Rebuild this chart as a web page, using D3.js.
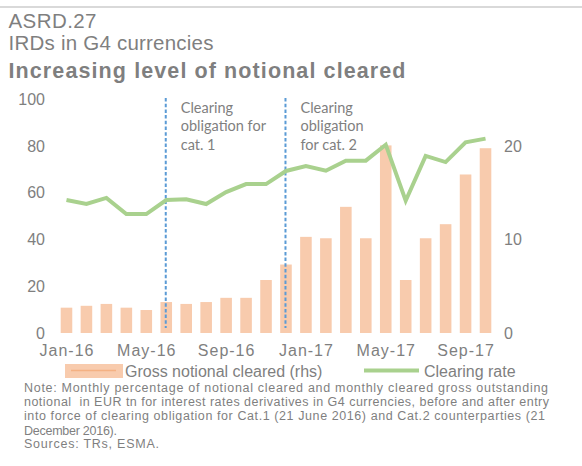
<!DOCTYPE html>
<html>
<head>
<meta charset="utf-8">
<script src="https://cdn.jsdelivr.net/npm/d3@7"></script>
<style>
  html, body { margin: 0; padding: 0; background: #fff; }
  svg { display: block; font-family: "Liberation Sans", Arial, sans-serif; }
</style>
</head>
<body>
<svg id="chart" width="582" height="466"></svg>
<script>
// ---- data ----
const months = ["Jan-16","Feb-16","Mar-16","Apr-16","May-16","Jun-16","Jul-16","Aug-16","Sep-16","Oct-16","Nov-16","Dec-16",
                "Jan-17","Feb-17","Mar-17","Apr-17","May-17","Jun-17","Jul-17","Aug-17","Sep-17","Oct-17"];
const grossNotional = [2.7,2.9,3.1,2.7,2.45,3.3,3.1,3.3,3.75,3.75,5.65,7.3,10.25,10.1,13.45,10.1,20.0,5.65,10.1,11.6,16.9,19.7];
const clearingRate = [56.7,55.0,57.6,50.7,50.7,56.7,57.0,55.0,60.1,63.5,63.5,69.1,71.2,69.2,73.5,73.5,80.3,56.4,75.5,72.9,81.3,82.9];
const xTickLabels = ["Jan-16","May-16","Sep-16","Jan-17","May-17","Sep-17"];
const leftTicks = [0,20,40,60,80,100];
const rightTicks = [0,10,20];
const obligations = [
  {month: "Jun-16", lines: ["Clearing","obligation for","cat. 1"]},
  {month: "Dec-16", lines: ["Clearing","obligation","for cat. 2"]}
];
const headerLines = ["ASRD.27","IRDs in G4 currencies","Increasing level of notional cleared"];
const legendLabels = ["Gross notional cleared (rhs)","Clearing rate"];
const noteLines = [
  "Note: Monthly percentage of notional cleared and monthly cleared gross outstanding",
  "notional  in EUR tn for interest rates derivatives in G4 currencies, before and after entry",
  "into force of clearing obligation for Cat.1 (21 June 2016) and Cat.2 counterparties (21",
  "December 2016).",
  "Sources: TRs, ESMA."
];

// ---- style ----
const grey = "#7f7f7f";
const barColor = "#F8CBAD";
const lineColor = "#A9D18E";
const dashColor = "#5B9BD5";

const svg = d3.select("#chart");

// header rule
svg.append("rect").attr("x",0).attr("y",6).attr("width",582).attr("height",2).attr("fill","#d9d9d9");

// header texts
const headerSpec = [
  {y: 27.5, size: 20.5, weight: "normal", len: 88},
  {y: 49.5, size: 20.5, weight: "normal", len: 205},
  {y: 77.5, size: 21.5, weight: "bold", len: 397}
];
headerLines.forEach((t,i) => {
  const s = headerSpec[i];
  svg.append("text").attr("x",8.5).attr("y",s.y)
    .attr("font-size",s.size).attr("font-weight",s.weight).attr("fill",grey)
    .attr("textLength",s.len).attr("lengthAdjust","spacing")
    .text(t);
});

// ---- scales ----
const x = d3.scaleBand().domain(months).range([56.5, 495.5]).paddingInner(0.42).paddingOuter(0.21);
const yL = d3.scaleLinear().domain([0,100]).range([333, 98.5]);
const yR = d3.scaleLinear().domain([0,25]).range([333, 98.5]);
const cx = m => x(m) + x.bandwidth()/2;

// bars
svg.append("g").selectAll("rect").data(months).join("rect")
  .attr("x", d => x(d))
  .attr("width", x.bandwidth())
  .attr("y", (d,i) => yR(grossNotional[i]))
  .attr("height", (d,i) => yR(0) - yR(grossNotional[i]))
  .attr("fill", barColor);

// obligation dashed lines + annotations
obligations.forEach(o => {
  const xx = cx(o.month) - 0.5;
  svg.append("line").attr("x1",xx).attr("x2",xx).attr("y1",98).attr("y2",328)
    .attr("stroke",dashColor).attr("stroke-width",2).attr("stroke-dasharray","3.5,2.2");
  const t = svg.append("text").attr("fill",grey).attr("font-family","Lato, 'Open Sans', sans-serif").attr("font-size",14.5);
  o.lines.forEach((l,i) => {
    t.append("tspan").attr("x", xx + 15).attr("y", 112.5 + i*18.5).text(l);
  });
});

// line
const line = d3.line().x((d,i) => cx(months[i])).y(d => yL(d));
svg.append("path").datum(clearingRate)
  .attr("d", line).attr("fill","none").attr("stroke",lineColor)
  .attr("stroke-width",4).attr("stroke-linejoin","miter");

// axes
const axL = svg.append("g").attr("transform","translate(45,0)")
  .call(d3.axisLeft(yL).tickValues(leftTicks).tickSize(0).tickPadding(0));
const axR = svg.append("g").attr("transform","translate(504,0)")
  .call(d3.axisRight(yR).tickValues(rightTicks).tickSize(0).tickPadding(0));
const axB = svg.append("g").attr("transform","translate(0,345)")
  .call(d3.axisBottom(x).tickValues(xTickLabels).tickSize(0).tickPadding(0));
[axL, axR, axB].forEach(a => {
  a.select(".domain").remove();
  a.selectAll("text").attr("fill",grey).attr("font-size",16)
    .attr("font-family","'Liberation Sans', Arial, sans-serif");
});
axL.selectAll("text").attr("dy","0.35em");
axR.selectAll("text").attr("dy","0.35em");
axB.selectAll("text").attr("dy","0.71em").attr("letter-spacing","1px").attr("dx","0.5");

// legend
const lg = svg.append("g");
lg.append("rect").attr("x",65).attr("y",364).attr("width",58).attr("height",14).attr("fill",barColor);
lg.append("line").attr("x1",71).attr("x2",116).attr("y1",370.5).attr("y2",370.5).attr("stroke","#F4B183").attr("stroke-width",1.5);
lg.append("text").attr("x",125).attr("y",376.5).attr("font-size",16).attr("fill",grey).text(legendLabels[0]);
lg.append("line").attr("x1",364).attr("x2",419).attr("y1",370.5).attr("y2",370.5).attr("stroke",lineColor).attr("stroke-width",4);
lg.append("text").attr("x",424).attr("y",376.5).attr("font-size",16).attr("fill",grey).text(legendLabels[1]);

// notes
const noteSpec = [
  {y: 392, len: 524},
  {y: 406, len: 525},
  {y: 420, len: 521},
  {y: 434.5, len: 93},
  {y: 448, len: 135}
];
noteLines.forEach((t,i) => {
  svg.append("text").attr("x",24).attr("y",noteSpec[i].y).attr("font-size",12.5).attr("fill",grey)
    .attr("textLength",noteSpec[i].len).attr("lengthAdjust","spacing")
    .style("white-space","pre").text(t);
});
</script>
</body>
</html>
